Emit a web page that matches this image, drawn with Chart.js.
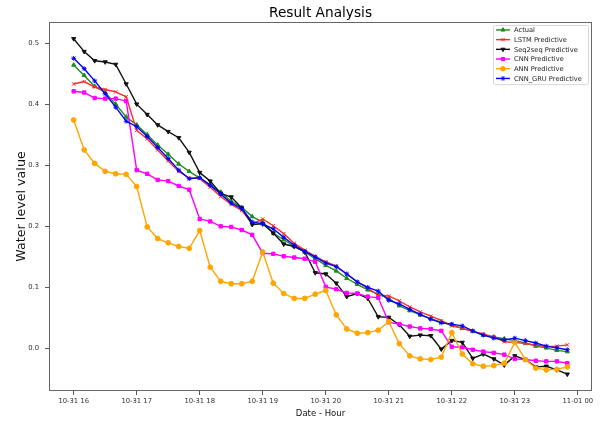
<!DOCTYPE html>
<html>
<head>
<meta charset="utf-8">
<title>Result Analysis</title>
<script src="https://cdn.jsdelivr.net/npm/chart.js@4.4.1/dist/chart.umd.min.js"></script>
<style>
  html, body { margin: 0; padding: 0; background: #fff; }
  #myChart { display: block; }
</style>
</head>
<body>
<canvas id="myChart" width="603" height="422"></canvas>
<script>
"use strict";

// one value every 10 minutes, 10-31 16:00 -> 10-31 23:50
const actual = [0.464, 0.447, 0.429, 0.419, 0.400, 0.379, 0.366, 0.350, 0.333, 0.318, 0.302, 0.290,
    0.279, 0.268, 0.256, 0.241, 0.231, 0.216, 0.207, 0.189, 0.178, 0.167, 0.158, 0.147,
    0.136, 0.127, 0.115, 0.105, 0.096, 0.089, 0.082, 0.070, 0.062, 0.055, 0.049, 0.043,
    0.039, 0.033, 0.028, 0.022, 0.019, 0.016, 0.013, 0.009, 0.004, 0.001, -0.003, -0.005];
const lstmPred = [0.433, 0.437, 0.428, 0.424, 0.420, 0.412, 0.357, 0.343, 0.325, 0.307, 0.290, 0.279,
    0.278, 0.264, 0.249, 0.236, 0.226, 0.204, 0.212, 0.201, 0.188, 0.172, 0.161, 0.151,
    0.142, 0.135, 0.122, 0.109, 0.099, 0.087, 0.086, 0.078, 0.068, 0.060, 0.053, 0.046,
    0.037, 0.033, 0.028, 0.024, 0.019, 0.011, 0.010, 0.008, 0.006, 0.003, 0.004, 0.006];
const seq2seqPred = [0.507, 0.486, 0.471, 0.469, 0.465, 0.433, 0.400, 0.383, 0.366, 0.355, 0.345, 0.321,
    0.288, 0.274, 0.254, 0.248, 0.230, 0.203, 0.204, 0.189, 0.171, 0.167, 0.158, 0.124,
    0.122, 0.107, 0.085, 0.090, 0.082, 0.052, 0.051, 0.039, 0.020, 0.022, 0.021, -0.001,
    0.013, 0.010, -0.016, -0.009, -0.017, -0.027, -0.012, -0.018, -0.030, -0.029, -0.035, -0.042];
const cnnPred = [0.421, 0.419, 0.410, 0.409, 0.409, 0.405, 0.292, 0.286, 0.276, 0.274, 0.266, 0.260,
    0.212, 0.208, 0.200, 0.199, 0.194, 0.186, 0.156, 0.155, 0.151, 0.149, 0.147, 0.142,
    0.101, 0.097, 0.091, 0.090, 0.085, 0.083, 0.043, 0.040, 0.036, 0.033, 0.032, 0.029,
    0.003, 0.002, -0.002, -0.005, -0.007, -0.010, -0.017, -0.018, -0.020, -0.021, -0.021, -0.024];
const annPred = [0.374, 0.325, 0.303, 0.290, 0.286, 0.285, 0.265, 0.199, 0.180, 0.173, 0.167, 0.164,
    0.193, 0.133, 0.110, 0.106, 0.106, 0.110, 0.158, 0.107, 0.090, 0.082, 0.082, 0.089,
    0.095, 0.055, 0.032, 0.025, 0.026, 0.030, 0.044, 0.008, -0.012, -0.017, -0.018, -0.014,
    0.026, -0.009, -0.025, -0.029, -0.028, -0.024, 0.010, -0.018, -0.032, -0.035, -0.034, -0.030];
const cnnGruPred = [0.475, 0.458, 0.438, 0.417, 0.395, 0.372, 0.363, 0.347, 0.329, 0.311, 0.292, 0.278,
    0.280, 0.267, 0.253, 0.238, 0.229, 0.207, 0.204, 0.196, 0.182, 0.169, 0.159, 0.150,
    0.140, 0.134, 0.122, 0.109, 0.100, 0.094, 0.079, 0.073, 0.064, 0.056, 0.048, 0.042,
    0.040, 0.037, 0.029, 0.022, 0.017, 0.014, 0.017, 0.013, 0.009, 0.004, 0.001, -0.002];

const seriesNames = ["Actual", "LSTM Predictive", "Seq2seq Predictive", "CNN Predictive", "ANN Predictive", "CNN_GRU Predictive"];
const allSeries = [actual, lstmPred, seq2seqPred, cnnPred, annPred, cnnGruPred];

// tick positions are in 10-minute steps from 10-31 16:00
const xTickPos = [0, 6, 12, 18, 24, 30, 36, 42, 48];
const xTickLabels = ["10-31 16", "10-31 17", "10-31 18", "10-31 19", "10-31 20", "10-31 21", "10-31 22", "10-31 23", "11-01 00"];
const yTickValues = [0.0, 0.1, 0.2, 0.3, 0.4, 0.5];

// styles
const FONT = "'DejaVu Sans', 'Liberation Sans', sans-serif";
const seriesColors = ["#1e8c1e", "#ff2a2a", "#111111", "#ff00ff", "#ffa500", "#0000ff"];
const seriesMarkers = ["triangle", "crossRot", "triangle", "rect", "circle", "star"];
const markerRotation = [0, 0, 180, 0, 0, 0];

function toPoints(values) {
    return values.map(function (v, i) { return { x: i, y: v }; });
}

// matplotlib style frame round the plot
const framePlugin = {
    id: "frame",
    afterDraw(chart) {
        let ctx = chart.ctx, a = chart.chartArea;
        ctx.save();
        ctx.strokeStyle = "#666";
        ctx.lineWidth = 1;
        ctx.strokeRect(Math.round(a.left) + 0.5, Math.round(a.top) + 0.5,
            Math.round(a.right - a.left) - 1, Math.round(a.bottom - a.top) - 1);
        ctx.restore();
    }
};

// legend box in the upper right corner, line + marker handles
const boxLegendPlugin = {
    id: "boxLegend",
    afterDraw(chart) {
        let ctx = chart.ctx, a = chart.chartArea;
        let rowH = 9.7;
        let boxW = 95, boxH = seriesNames.length * rowH + 1;
        let left = a.right - 4 - boxW, top = a.top + 3;

        ctx.save();
        ctx.fillStyle = "rgba(255,255,255,0.85)";
        ctx.strokeStyle = "#d6d6d6";
        ctx.lineWidth = 1;
        ctx.beginPath();
        ctx.roundRect(left + 0.5, top + 0.5, boxW, boxH, 2);
        ctx.fill();
        ctx.stroke();

        ctx.font = "6.7px " + FONT;
        ctx.textBaseline = "middle";
        ctx.textAlign = "left";
        for (let k = 0; k < seriesNames.length; k++) {
            let y = top + 5 + k * rowH;
            ctx.strokeStyle = seriesColors[k];
            ctx.fillStyle = seriesColors[k];
            ctx.lineWidth = 1.4;
            ctx.beginPath();
            ctx.moveTo(left + 3, y);
            ctx.lineTo(left + 17, y);
            ctx.stroke();
            ctx.lineWidth = 1;
            Chart.helpers.drawPoint(ctx, {
                pointStyle: seriesMarkers[k],
                rotation: markerRotation[k],
                radius: 2.3,
                borderWidth: 1
            }, left + 10, y);
            ctx.fillStyle = "#222";
            ctx.fillText(seriesNames[k], left + 21, y + 0.5);
        }
        ctx.restore();
    }
};

let datasets = allSeries.map(function (vals, k) {
    return {
        label: seriesNames[k],
        data: toPoints(vals),
        borderColor: seriesColors[k],
        backgroundColor: seriesColors[k],
        borderWidth: 1.4,
        pointStyle: seriesMarkers[k],
        rotation: markerRotation[k],
        pointRadius: 2.4,
        pointHoverRadius: 2.4,
        pointBorderWidth: 1,
        tension: 0,
        order: allSeries.length - k
    };
});

new Chart(document.getElementById("myChart"), {
    type: "line",
    data: { datasets: datasets },
    options: {
        responsive: false,
        devicePixelRatio: 1,
        animation: false,
        events: [],
        layout: { padding: { top: 0, left: 0, right: 11, bottom: 0 } },
        plugins: {
            legend: { display: false },
            tooltip: { enabled: false },
            title: {
                display: true,
                text: "Result Analysis",
                fullSize: false,
                color: "#000",
                font: { family: FONT, size: 13.7, weight: "normal" },
                padding: { top: 5, bottom: 0.5 }
            }
        },
        scales: {
            x: {
                type: "linear",
                min: -2.35,
                max: 49.35,
                afterBuildTicks: function (s) { s.ticks = xTickPos.map(function (v) { return { value: v }; }); },
                afterFit: function (s) { s.height = 31; },
                ticks: {
                    callback: function (v, i) { return xTickLabels[i]; },
                    font: { family: FONT, size: 6.8 },
                    color: "#333",
                    padding: 2,
                    maxRotation: 0,
                    autoSkip: false
                },
                grid: { drawOnChartArea: false, drawTicks: true, tickLength: 4, tickColor: "#555" },
                border: { display: false },
                title: {
                    display: true,
                    text: "Date - Hour",
                    color: "#111",
                    font: { family: FONT, size: 8.5 },
                    padding: { top: 0, bottom: 3 }
                }
            },
            y: {
                min: -0.0695,
                max: 0.5345,
                afterBuildTicks: function (s) { s.ticks = yTickValues.map(function (v) { return { value: v }; }); },
                afterFit: function (s) { s.width = 49; },
                ticks: {
                    callback: function (v) { return v.toFixed(1); },
                    font: { family: FONT, size: 6.8 },
                    color: "#333",
                    padding: 6
                },
                grid: { drawOnChartArea: false, drawTicks: true, tickLength: 4, tickColor: "#555" },
                border: { display: false },
                title: {
                    display: true,
                    text: "Water level value",
                    color: "#111",
                    font: { family: FONT, size: 12.7 },
                    padding: { top: 14, bottom: 0 }
                }
            }
        }
    },
    plugins: [framePlugin, boxLegendPlugin]
});
</script>
</body>
</html>
